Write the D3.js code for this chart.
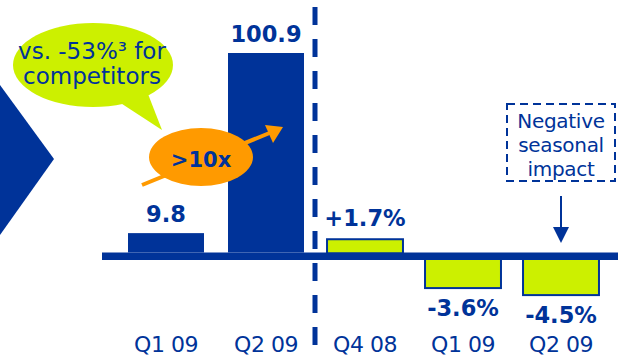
<!DOCTYPE html>
<html>
<head>
<meta charset="utf-8">
<script src="https://cdnjs.cloudflare.com/ajax/libs/d3/7.8.5/d3.min.js"></script>
<style>
  body { margin: 0; background: #fff; }
  svg { display: block; font-family: "DejaVu Sans", "Open Sans", sans-serif; }
</style>
</head>
<body>
<script>
// left panel: absolute values
var leftCats = ["Q1 09", "Q2 09"];
var leftVals = [9.8, 100.9];
var leftLabels = ["9.8", "100.9"];

// right panel: growth in %
var rightCats = ["Q4 08", "Q1 09 ", "Q2 09 "];
var rightVals = [1.7, -3.6, -4.5];
var rightLabels = ["+1.7%", "-3.6%", "-4.5%"];

var bubbleLines = ["vs. -53%\u00b3 for", "competitors"];
var noteLines = ["Negative", "seasonal", "impact"];

var blue = "#003399", lime = "#ccf000", orange = "#ff9a00";
var width = 618, height = 358;

var svg = d3.select("body").append("svg")
    .attr("width", width)
    .attr("height", height);

// chevron on the left edge
svg.append("polygon")
    .attr("points", "0,85 54,159 0,235")
    .attr("fill", blue);

var baseTop = 252.5, baseBot = 260;

// scales
var xL = d3.scaleBand().domain(leftCats).range([116, 316])
    .paddingInner(0.24).paddingOuter(0.12);
var yL = d3.scaleLinear().domain([0, 100.9]).range([baseTop, 53]);

var xR = d3.scaleBand().domain(rightCats).range([316, 610])
    .paddingInner(0.225).paddingOuter(0.1125);
var hR = d3.scaleLinear().domain([0, 1]).range([0, 7.8]);

// left bars
svg.selectAll(".barL").data(leftVals).enter().append("rect")
    .attr("class", "barL")
    .attr("x", function(d, i) { return xL(leftCats[i]); })
    .attr("width", xL.bandwidth())
    .attr("y", function(d) { return yL(d); })
    .attr("height", function(d) { return yL(0) - yL(d); })
    .attr("fill", blue);

svg.selectAll(".lblL").data(leftLabels).enter().append("text")
    .attr("class", "lblL")
    .attr("x", function(d, i) { return xL(leftCats[i]) + xL.bandwidth() / 2; })
    .attr("y", function(d, i) { return yL(leftVals[i]) - 11; })
    .attr("text-anchor", "middle")
    .attr("font-size", 22.5).attr("font-weight", 700)
    .attr("fill", blue)
    .text(function(d) { return d; });

// right bars
svg.selectAll(".barR").data(rightVals).enter().append("rect")
    .attr("class", "barR")
    .attr("x", function(d, i) { return xR(rightCats[i]); })
    .attr("width", xR.bandwidth())
    .attr("y", function(d) { return d >= 0 ? baseTop - hR(d) : baseBot - 1; })
    .attr("height", function(d) { return hR(Math.abs(d)) + 1; })
    .attr("fill", lime)
    .attr("stroke", blue)
    .attr("stroke-width", 2);

svg.selectAll(".lblR").data(rightLabels).enter().append("text")
    .attr("class", "lblR")
    .attr("x", function(d, i) { return xR(rightCats[i]) + xR.bandwidth() / 2; })
    .attr("y", function(d, i) {
      var v = rightVals[i];
      return v >= 0 ? baseTop - hR(v) - 13 : baseBot + hR(-v) + 27.5;
    })
    .attr("text-anchor", "middle")
    .attr("font-size", 22.5).attr("font-weight", 700)
    .attr("fill", blue)
    .text(function(d) { return d; });

// baseline
svg.append("rect")
    .attr("x", 102).attr("y", baseTop)
    .attr("width", width - 102).attr("height", baseBot - baseTop)
    .attr("fill", blue);

// category labels
var cats = leftCats.map(function(c) { return {c: c, x: xL(c) + xL.bandwidth() / 2}; })
    .concat(rightCats.map(function(c) { return {c: c, x: xR(c) + xR.bandwidth() / 2}; }));
svg.selectAll(".cat").data(cats).enter().append("text")
    .attr("class", "cat")
    .attr("x", function(d) { return d.x; })
    .attr("y", 352)
    .attr("text-anchor", "middle")
    .attr("font-size", 22)
    .attr("letter-spacing", -0.5)
    .attr("fill", blue)
    .text(function(d) { return d.c.trim(); });

// dashed divider
svg.append("line")
    .attr("x1", 315).attr("x2", 315)
    .attr("y1", 7).attr("y2", height)
    .attr("stroke", blue).attr("stroke-width", 5)
    .attr("stroke-dasharray", "18 14");

// orange arrow, behind the ellipse
svg.append("line")
    .attr("x1", 142).attr("y1", 185).attr("x2", 272).attr("y2", 132)
    .attr("stroke", orange).attr("stroke-width", 4);
svg.append("polygon")
    .attr("points", "283,127 265,125 273,143")
    .attr("fill", orange);

svg.append("ellipse")
    .attr("cx", 201).attr("cy", 157).attr("rx", 52).attr("ry", 29)
    .attr("fill", orange);
svg.append("text")
    .attr("x", 201).attr("y", 167)
    .attr("text-anchor", "middle")
    .attr("font-size", 21).attr("font-weight", 700)
    .attr("fill", blue)
    .text(">10x");

// speech bubble
svg.append("polygon")
    .attr("points", "116,100 148,94 162,130")
    .attr("fill", lime);
svg.append("ellipse")
    .attr("cx", 93).attr("cy", 65).attr("rx", 80).attr("ry", 42)
    .attr("fill", lime);
svg.selectAll(".bub").data(bubbleLines).enter().append("text")
    .attr("class", "bub")
    .attr("x", 92)
    .attr("y", function(d, i) { return 58.5 + i * 25; })
    .attr("text-anchor", "middle")
    .attr("font-size", 23)
    .attr("fill", blue)
    .text(function(d) { return d; });

// note box
svg.append("rect")
    .attr("x", 507).attr("y", 104).attr("width", 108).attr("height", 77)
    .attr("fill", "none")
    .attr("stroke", blue).attr("stroke-width", 2)
    .attr("stroke-dasharray", "8 5");
svg.selectAll(".note").data(noteLines).enter().append("text")
    .attr("class", "note")
    .attr("x", 561)
    .attr("y", function(d, i) { return 128 + i * 24; })
    .attr("text-anchor", "middle")
    .attr("font-size", 20)
    .attr("letter-spacing", -0.3)
    .attr("fill", blue)
    .text(function(d) { return d; });

// down arrow
svg.append("line")
    .attr("x1", 561).attr("x2", 561).attr("y1", 196).attr("y2", 230)
    .attr("stroke", blue).attr("stroke-width", 2);
svg.append("polygon")
    .attr("points", "553,227 569,227 561,243")
    .attr("fill", blue);
</script>
</body>
</html>
